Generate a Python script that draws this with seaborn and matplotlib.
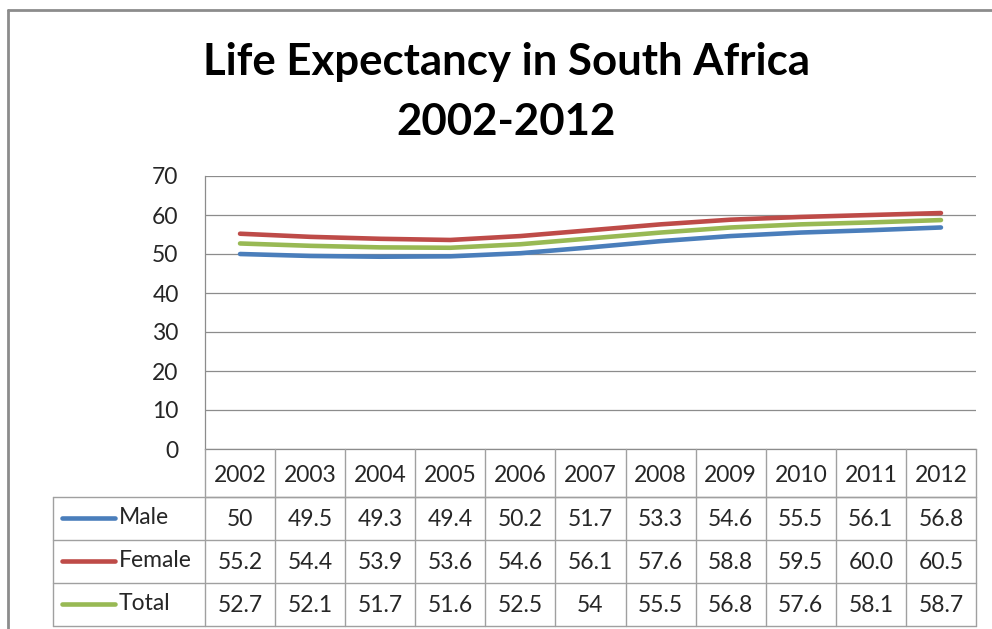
import matplotlib
matplotlib.use("Agg")
import matplotlib.pyplot as plt
from matplotlib.lines import Line2D
import seaborn as sns
import pandas as pd

# ---- data ----
years = ["2002", "2003", "2004", "2005", "2006", "2007", "2008", "2009", "2010", "2011", "2012"]
male = ["50", "49.5", "49.3", "49.4", "50.2", "51.7", "53.3", "54.6", "55.5", "56.1", "56.8"]
female = ["55.2", "54.4", "53.9", "53.6", "54.6", "56.1", "57.6", "58.8", "59.5", "60.0", "60.5"]
total = ["52.7", "52.1", "51.7", "51.6", "52.5", "54", "55.5", "56.8", "57.6", "58.1", "58.7"]
series_names = ["Male", "Female", "Total"]
y_ticks = [0, 10, 20, 30, 40, 50, 60, 70]
title = "Life Expectancy in South Africa\n2002-2012"

colors = {"Male": "#4A7EBB", "Female": "#BE4B48", "Total": "#98B954"}
series = {"Male": male, "Female": female, "Total": total}

rows = []
for name in series_names:
    for i, (yr, v) in enumerate(zip(years, series[name])):
        rows.append({"idx": i, "year": yr, "series": name, "value": float(v)})
df = pd.DataFrame(rows)

sns.set_theme(style="white")
FONT = ["Lato", "DejaVu Sans"]
plt.rcParams["font.family"] = FONT

W, H = 992, 629
fig = plt.figure(figsize=(W / 100, H / 100), dpi=100)

def fx(px):
    return px / W

def fy(py):
    return 1 - py / H

# figure border (left and top)
grey_border = "#8C8C8C"
fig.add_artist(Line2D([fx(8), fx(8)], [fy(10), fy(629)], color=grey_border, lw=2.0, transform=fig.transFigure))
fig.add_artist(Line2D([fx(8), fx(992)], [fy(10), fy(10)], color=grey_border, lw=2.0, transform=fig.transFigure))

# plot area
L, R, T, B = 205, 976, 176, 449
ax = fig.add_axes([fx(L), fy(B), fx(R) - fx(L), fy(T) - fy(B)])
sns.lineplot(data=df, x="idx", y="value", hue="series", hue_order=series_names,
             palette=colors, linewidth=3.3, ax=ax, legend=False,
             solid_capstyle="round", sort=True)
ax.set_xlim(-0.5, len(years) - 0.5)
ax.set_ylim(0, 70)
ax.set_yticks(y_ticks)
ax.set_yticklabels([str(t) for t in y_ticks], fontsize=16.5, color="#262626")
ax.tick_params(axis="y", length=0, pad=19)
ax.set_xticks([])
ax.set_xlabel("")
ax.set_ylabel("")
ax.grid(axis="y", color="#8C8C8C", linewidth=0.9)
ax.grid(axis="x", visible=False)
for s in ["top", "right"]:
    ax.spines[s].set_visible(False)
for s in ["left", "bottom"]:
    ax.spines[s].set_color("#8C8C8C")
    ax.spines[s].set_linewidth(0.9)
ax.set_axisbelow(True)

# title
fig.text(fx(506), fy(92), title, ha="center", va="center", fontsize=31.5, fontweight="bold",
         color="black", linespacing=1.58, family=FONT)

# ---- data table ----
tcol = "#A0A0A0"
row_edges = [449, 497, 540, 583, 626]
col_w = (R - L) / len(years)
legend_left = 53

def hline(x0, x1, y):
    fig.add_artist(Line2D([fx(x0), fx(x1)], [fy(y), fy(y)], color=tcol, lw=1.0, transform=fig.transFigure))

def vline(x, y0, y1):
    fig.add_artist(Line2D([fx(x), fx(x)], [fy(y0), fy(y1)], color=tcol, lw=1.0, transform=fig.transFigure))

hline(L, R, row_edges[1])
for y in row_edges[1:]:
    hline(legend_left, R, y)
for k in range(len(years) + 1):
    vline(L + k * col_w, row_edges[0], row_edges[-1])
vline(legend_left, row_edges[1], row_edges[-1])

fs_tab = 16.5
for k, yr in enumerate(years):
    xc = L + (k + 0.5) * col_w
    fig.text(fx(xc), fy((row_edges[0] + row_edges[1]) / 2 + 2), yr, ha="center", va="center",
             fontsize=fs_tab, color="#262626")
for r, name in enumerate(series_names):
    yc = (row_edges[r + 1] + row_edges[r + 2]) / 2 - 1
    fig.add_artist(Line2D([fx(62), fx(115)], [fy(yc), fy(yc)], color=colors[name], lw=3.3,
                          solid_capstyle="round", transform=fig.transFigure))
    fig.text(fx(119), fy(yc), name, ha="left", va="center", fontsize=fs_tab, color="#262626")
    for k, v in enumerate(series[name]):
        xc = L + (k + 0.5) * col_w
        fig.text(fx(xc), fy(yc + 2), v, ha="center", va="center", fontsize=fs_tab, color="#262626")

fig.savefig("out.png", dpi=100)
